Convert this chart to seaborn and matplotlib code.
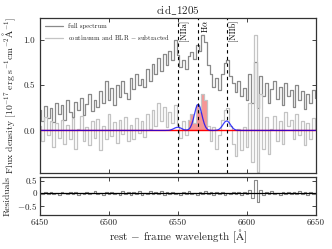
import numpy as np
import pandas as pd
import matplotlib
matplotlib.use("Agg")
import matplotlib.pyplot as plt
import seaborn as sns

# ---------------- data ----------------
wave_start, wave_step = 6450, 2
full_spectrum = [0.22, 0.10, 0.27, 0.14, 0.25, 0.09, 0.30, 0.18, 0.28, 0.12,
                 0.33, 0.20, 0.15, 0.31, 0.22, 0.36, 0.17, 0.29, 0.40, 0.21,
                 0.34, 0.26, 0.43, 0.30, 0.55, 0.33, 0.47, 0.28, 0.50, 0.37,
                 0.54, 0.41, 0.35, 0.58, 0.46, 0.62, 0.50, 0.57, 0.48, 0.68,
                 0.55, 0.73, 0.62, 0.80, 0.66, 0.84, 0.72, 0.88, 0.78, 1.00,
                 0.83, 0.70, 0.78, 0.68, 0.82, 0.86, 0.79, 0.94, 0.88, 1.05,
                 0.98, 0.72, 0.62, 0.48, 0.58, 0.45, 0.62, 0.74, 0.78, 0.60,
                 0.52, 0.42, 0.55, 0.38, 0.47, 0.33, 0.62, 0.30, 0.75, 0.25,
                 0.60, 0.38, 0.52, 0.30, 0.46, 0.55, 0.35, 0.48, 0.28, 0.52,
                 0.38, 0.45, 0.26, 0.50, 0.33, 0.44, 0.24, 0.40, 0.30, 0.45,
                 0.36]
subtracted = [0.05, -0.12, 0.15, -0.05, 0.10, -0.18, 0.08, -0.08, 0.12, -0.15,
              0.06, -0.10, 0.14, -0.20, 0.02, 0.16, -0.12, 0.04, -0.16, 0.10,
              -0.08, 0.13, -0.22, 0.05, -0.10, 0.18, -0.06, 0.09, -0.14, 0.12,
              -0.04, 0.15, -0.12, 0.06, -0.09, 0.14, -0.03, 0.10, -0.07, 0.18,
              0.02, 0.22, 0.05, 0.30, 0.10, 0.26, 0.04, 0.20, 0.08, 0.28,
              0.06, -0.08, 0.10, -0.05, 0.12, 0.18, 0.08, 0.28, 0.20, 0.40,
              0.34, 0.05, -0.12, 0.04, -0.20, -0.05, 0.12, 0.22, 0.25, 0.05,
              -0.15, -0.28, 0.02, -0.22, 0.04, -0.18, 0.30, -0.35, 1.05, -0.46,
              0.40, -0.20, 0.15, -0.26, 0.02, 0.16, -0.12, 0.10, -0.15, 0.20,
              0.05, 0.12, -0.10, 0.18, -0.05, 0.10, -0.16, 0.08, -0.10, 0.14,
              0.02]
residuals = [0.02, -0.05, 0.04, -0.03, 0.06, -0.02, 0.03, -0.06, 0.05, 0.00,
             -0.04, 0.07, -0.02, 0.04, -0.07, 0.03, -0.03, 0.06, -0.05, 0.02,
             0.08, -0.04, 0.03, -0.08, 0.05, -0.02, 0.07, -0.05, 0.02, -0.06,
             0.09, -0.03, 0.05, -0.07, 0.04, -0.02, 0.08, -0.06, 0.03, -0.04,
             0.10, -0.05, 0.06, -0.03, 0.08, -0.07, 0.04, -0.02, 0.07, -0.05,
             0.03, -0.06, 0.05, -0.03, 0.09, -0.04, 0.02, -0.07, 0.06, -0.03,
             0.08, -0.05, 0.04, -0.08, 0.05, -0.02, 0.06, -0.06, 0.03, -0.04,
             0.07, -0.03, 0.05, -0.09, 0.04, -0.05, 0.12, -0.20, 0.55, -0.35,
             0.15, -0.08, 0.06, -0.04, 0.08, -0.05, 0.03, -0.06, 0.07, -0.02,
             0.05, -0.04, 0.06, -0.03, 0.08, -0.05, 0.04, -0.06, 0.05, -0.02,
             0.03]

model_start, model_step = 6540, 1
model_flux = [0.000, 0.000, 0.001, 0.001, 0.003, 0.007, 0.013, 0.020, 0.028, 0.033,
              0.035, 0.032, 0.026, 0.018, 0.011, 0.006, 0.005, 0.007, 0.015, 0.034,
              0.068, 0.119, 0.182, 0.243, 0.283, 0.287, 0.254, 0.195, 0.131, 0.077,
              0.039, 0.017, 0.007, 0.002, 0.001, 0.000, 0.000, 0.001, 0.003, 0.007,
              0.015, 0.030, 0.050, 0.073, 0.094, 0.104, 0.102, 0.086, 0.064, 0.041,
              0.023, 0.011, 0.005, 0.002, 0.001, 0.000]

line_names = ["[NIIa]", r"H$\alpha$", "[NIIb]"]
line_waves = [6549.85, 6564.61, 6585.27]
fill_range = (6557, 6573)

title = r"$\mathrm{cid\_1205}$"

# ---------------- frames ----------------
wave = wave_start + wave_step * np.arange(len(full_spectrum))
df = pd.DataFrame({"wave": wave, "full": full_spectrum,
                   "sub": subtracted, "res": residuals})
mwave = model_start + model_step * np.arange(len(model_flux))
mdf = pd.DataFrame({"wave": np.concatenate([[6450], mwave, [6650]]),
                    "flux": np.concatenate([[0.0], model_flux, [0.0]])})

# ---------------- style ----------------
sns.set_style("ticks")
plt.rcParams.update({
    "font.family": "serif",
    "font.serif": ["cmr10", "DejaVu Serif"],
    "mathtext.fontset": "cm",
    "axes.formatter.use_mathtext": True,
    "axes.unicode_minus": True,
    "xtick.direction": "in",
    "ytick.direction": "in",
    "xtick.top": True,
    "ytick.right": True,
    "xtick.major.size": 3,
    "ytick.major.size": 3,
    "xtick.major.width": 0.6,
    "ytick.major.width": 0.6,
    "axes.linewidth": 0.9,
    "axes.edgecolor": "#333333",
})

fig = plt.figure(figsize=(3.32, 2.49), dpi=100)
ax = fig.add_axes([0.120, 0.305, 0.832, 0.623])
ax2 = fig.add_axes([0.120, 0.135, 0.832, 0.154])

dark = "#8a8a8a"
light = "#c4c4c4"

sns.lineplot(data=df, x="wave", y="full", ax=ax, color=dark, lw=0.9,
             drawstyle="steps-mid", label="full spectrum")
sns.lineplot(data=df, x="wave", y="sub", ax=ax, color=light, lw=0.9,
             drawstyle="steps-mid", label=r"continuum and BLR $-$ subtracted")

sel = df[(df["wave"] >= fill_range[0]) & (df["wave"] <= fill_range[1])]
ax.fill_between(sel["wave"], 0, np.clip(sel["sub"], 0, None), step="mid",
                color="#f04040", alpha=0.55, lw=0)
ax.axhline(0, color="red", lw=1.0)
sns.lineplot(data=mdf, x="wave", y="flux", ax=ax, color="blue", lw=0.9,
             alpha=0.75, legend=False)

for name, lw_ in zip(line_names, line_waves):
    ax.axvline(lw_, color="black", ls=(0, (3, 3)), lw=0.8)
    ax.text(lw_ + 1.5, 1.22, name, rotation=90, va="top", ha="left",
            fontsize=6, color="black")

ax.set_xlim(6450, 6650)
ax.set_ylim(-0.47, 1.24)
ax.set_yticks([0.0, 0.5, 1.0])
ax.set_yticklabels(["0.0", "0.5", "1.0"])
ax.set_xticks([6450, 6500, 6550, 6600, 6650])
ax.set_xticklabels([])
ax.set_xlabel("")
ax.set_ylabel(r"Flux density $[10^{-17}\ \mathrm{erg\ s^{-1}cm^{-2}\AA^{-1}}]$",
              fontsize=7)
ax.set_title(title, fontsize=8, pad=3)
ax.tick_params(labelsize=6.5)
leg = ax.legend(loc="upper left", frameon=False, fontsize=4.8,
                handlelength=2.6, borderaxespad=0.4, labelspacing=0.6)

sns.lineplot(data=df, x="wave", y="res", ax=ax2, color=dark, lw=0.8,
             drawstyle="steps-mid")
ax2.axhline(0, color="black", lw=0.9)
ax2.set_xlim(6450, 6650)
ax2.set_ylim(-0.9, 0.66)
ax2.set_yticks([-0.5, 0, 0.5])
ax2.set_yticklabels([r"$-0.5$", "0", "0.5"])
ax2.set_xticks([6450, 6500, 6550, 6600, 6650])
ax2.set_xticklabels(["6450", "6500", "6550", "6600", "6650"])
ax2.tick_params(labelsize=6.5, pad=2)
ax2.set_ylabel("Residuals", fontsize=7)
ax2.set_xlabel(r"rest $-$ frame wavelength [$\mathrm{\AA}$]", fontsize=8,
               labelpad=1)

fig.align_ylabels([ax, ax2])
fig.savefig("out.png", dpi=100)
